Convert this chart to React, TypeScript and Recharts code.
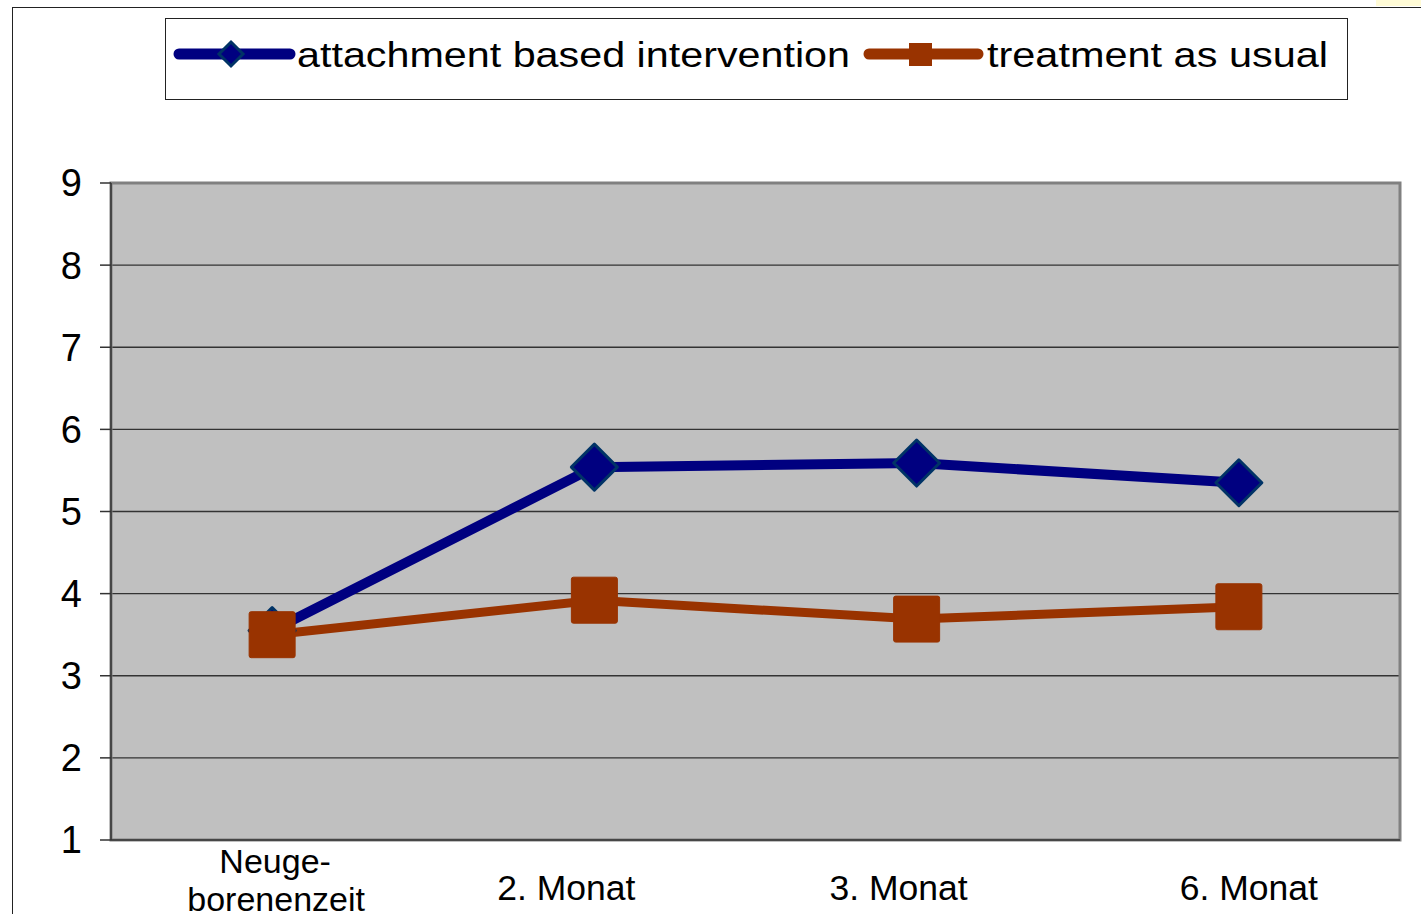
import React from 'react';
import { LineChart, Line, XAxis, YAxis, CartesianGrid, ReferenceArea } from 'recharts';

const periods = ['Neuge-\nborenenzeit', '2. Monat', '3. Monat', '6. Monat'];
const attachmentValues = [3.55, 5.54, 5.59, 5.35];
const usualValues = [3.5, 3.92, 3.69, 3.84];
const yTicks = [1, 2, 3, 4, 5, 6, 7, 8, 9];

const data = periods.map((period, i) => ({
  period,
  attachment: attachmentValues[i],
  usual: usualValues[i],
}));

const FONT = '"Liberation Sans", Arial, sans-serif';
const BLUE = '#000080';
const BLUE_EDGE = '#003366';
const RUST = '#993300';

const Diamond = (props: any) => {
  const { cx, cy } = props;
  if (cx == null || cy == null) return null;
  const r = 23;
  return (
    <polygon
      points={`${cx},${cy - r} ${cx + r},${cy} ${cx},${cy + r} ${cx - r},${cy}`}
      fill={BLUE}
      stroke={BLUE_EDGE}
      strokeWidth={3}
      strokeLinejoin="round"
    />
  );
};

const Square = (props: any) => {
  const { cx, cy } = props;
  if (cx == null || cy == null) return null;
  const s = 23;
  return <rect x={cx - s} y={cy - s} width={s * 2} height={s * 2} rx={2} fill={RUST} stroke={RUST} strokeWidth={1} />;
};

// Excel shifted some category labels a bit off the point centres
const labelShift = [3, -28, -18, 10];

const PeriodTick = (props: any) => {
  const { x, y, payload, index } = props;
  const lines = String(payload.value).split('\n');
  const dx = labelShift[index] ?? 0;
  if (lines.length > 1) {
    return (
      <text x={x + dx} y={y} textAnchor="middle" fontSize={34} fill="#000" fontFamily={FONT}>
        <tspan x={x + dx} dy={33}>{lines[0]}</tspan>
        <tspan x={x + dx + 1} dy={38}>{lines[1]}</tspan>
      </text>
    );
  }
  return (
    <text x={x + dx} y={y + 60} textAnchor="middle" fontSize={35.5} fill="#000" fontFamily={FONT}>
      {lines[0]}
    </text>
  );
};

const LegendBox = () => (
  <div
    style={{
      position: 'absolute',
      left: 165,
      top: 18,
      width: 1183,
      height: 82,
      border: '1px solid #222',
      background: '#fff',
      boxSizing: 'border-box',
    }}
  >
    <svg width={1181} height={80} style={{ position: 'absolute', left: 0, top: 0 }}>
      <line x1={13} y1={35} x2={124} y2={35} stroke={BLUE} strokeWidth={11} strokeLinecap="round" />
      <polygon points="65,23 77,35 65,47 53,35" fill={BLUE} stroke={BLUE_EDGE} strokeWidth={3} />
      <text x={131} y={48} fontSize={35} fontFamily={FONT} fill="#000" textLength={553} lengthAdjust="spacingAndGlyphs">
        attachment based intervention
      </text>
      <line x1={703} y1={35} x2={812} y2={35} stroke={RUST} strokeWidth={11} strokeLinecap="round" />
      <rect x={743} y={24} width={23} height={23} fill={RUST} />
      <text x={821} y={48} fontSize={35} fontFamily={FONT} fill="#000" textLength={341} lengthAdjust="spacingAndGlyphs">
        treatment as usual
      </text>
    </svg>
  </div>
);

export default function App() {
  return (
    <div style={{ position: 'fixed', left: 0, top: 0, width: 1421, height: 914, background: '#fff', overflow: 'hidden' }}>
      <div style={{ position: 'absolute', left: 12, top: 7, width: 1409, height: 1, background: '#222' }} />
      <div style={{ position: 'absolute', left: 12, top: 7, width: 1, height: 907, background: '#222' }} />
      <div style={{ position: 'absolute', left: 1376, top: 0, width: 45, height: 6, background: '#fffbd6' }} />
      <div style={{ position: 'absolute', left: 0, top: 0 }}>
        <LineChart width={1421} height={914} data={data} margin={{ top: 183, right: 21, bottom: 0, left: 11 }}>
          <CartesianGrid vertical={false} fill="#c0c0c0" stroke="#333" strokeWidth={1.3} />
          <ReferenceArea y1={1} y2={9} fill="none" stroke="#808080" strokeWidth={3} ifOverflow="visible" />
          <XAxis
            dataKey="period"
            scale="band"
            height={74}
            axisLine={{ stroke: '#333', strokeWidth: 1.5 }}
            tickLine={false}
            tickSize={0}
            tickMargin={0}
            tick={<PeriodTick />}
            interval={0}
          />
          <YAxis
            type="number"
            domain={[1, 9]}
            ticks={yTicks}
            width={100}
            axisLine={{ stroke: '#333', strokeWidth: 1.5 }}
            tickLine={{ stroke: '#333', strokeWidth: 1.5 }}
            tickSize={11}
            tickMargin={18}
            tick={{ fontSize: 38, fill: '#000', fontFamily: FONT }}
            interval={0}
          />
          <Line dataKey="attachment" stroke={BLUE} strokeWidth={10} dot={<Diamond />} activeDot={false} isAnimationActive={false} />
          <Line dataKey="usual" stroke={RUST} strokeWidth={9} dot={<Square />} activeDot={false} isAnimationActive={false} />
        </LineChart>
      </div>
      <LegendBox />
    </div>
  );
}
